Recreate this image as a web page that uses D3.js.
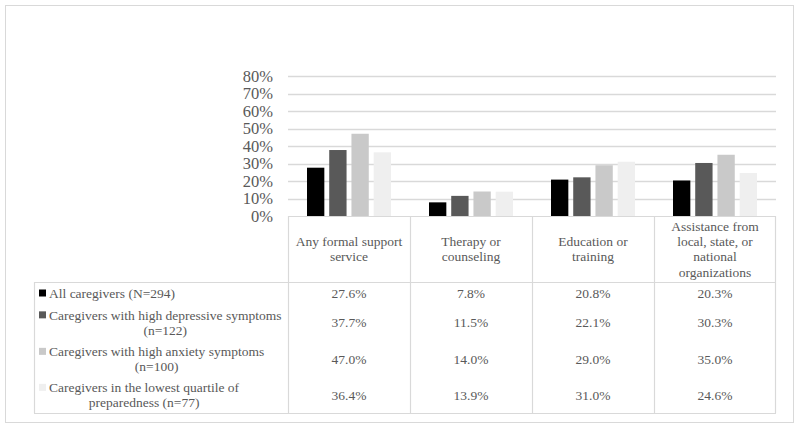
<!DOCTYPE html>
<html><head><meta charset="utf-8">
<script src="https://cdn.jsdelivr.net/npm/d3@7"></script>
<style>body{margin:0;background:#fff}svg{display:block}</style>
</head><body><svg id="c" width="800" height="428" font-family="'Liberation Serif', 'Times New Roman', Times, 'DejaVu Serif', serif"></svg>
<script>
const categories = [["Any formal support","service"],["Therapy or","counseling"],["Education or","training"],["Assistance from","local, state, or","national","organizations"]];
const seriesNames = [["All caregivers (N=294)"],["Caregivers with high depressive symptoms","(n=122)"],["Caregivers with high anxiety symptoms","(n=100)"],["Caregivers in the lowest quartile of","preparedness (n=77)"]];
const allCaregivers = [27.6, 7.8, 20.8, 20.3];
const highDepressive = [37.7, 11.5, 22.1, 30.3];
const highAnxiety = [47.0, 14.0, 29.0, 35.0];
const lowestPreparedness = [36.4, 13.9, 31.0, 24.6];
const yTicks = [0,10,20,30,40,50,60,70,80];
const colors = ["#000000","#595959","#c9c9c9","#efefef"];
const series = [allCaregivers, highDepressive, highAnxiety, lowestPreparedness];

(function(){
const svg = d3.select("#c");
const lineCol = "#d9d9d9";
const txt = "#595959";
svg.append("rect").attr("x",5.5).attr("y",5.5).attr("width",788).attr("height",417).attr("fill","#fff").attr("stroke",lineCol);

const pLeft=288, pRight=776, pTop=76, base=216;
const y = d3.scaleLinear().domain([0,80]).range([base, pTop]);
const x0 = d3.scaleBand().domain(d3.range(4)).range([pLeft,pRight]).padding(0);
const x1 = d3.scaleBand().domain(d3.range(4)).range([19,103]).paddingInner(0.22);

svg.append("g").selectAll("line").data(yTicks.filter(d=>d>0)).join("line")
  .attr("x1",pLeft).attr("x2",pRight).attr("y1",d=>Math.round(y(d))+0.5).attr("y2",d=>Math.round(y(d))+0.5)
  .attr("stroke",lineCol).attr("stroke-width",1.3);
svg.append("g").selectAll("text").data(yTicks).join("text")
  .attr("x",273).attr("y",d=>y(d)).attr("dy","0.35em").attr("text-anchor","end")
  .attr("font-size",16.5).attr("fill",txt).text(d=>d+"%");

series.forEach((s,si)=>{
  svg.append("g").selectAll("rect").data(s).join("rect")
    .attr("x",(d,i)=>x0(i)+x1(si)).attr("width",x1.bandwidth())
    .attr("y",d=>y(d)).attr("height",d=>base-y(d)).attr("fill",colors[si]);
});

const tLeft=34, hdrBottom=282, tBottom=413;
const rowH=[22,37,36,36];
const rowTops=[]; let acc=hdrBottom; rowH.forEach(h=>{rowTops.push(acc); acc+=h;});
const tl = svg.append("g").attr("stroke",lineCol).attr("stroke-width",1.2);
const hl=(a,b,yy)=>tl.append("line").attr("x1",a).attr("x2",b).attr("y1",yy+0.5).attr("y2",yy+0.5);
const vl=(xx,a,b)=>tl.append("line").attr("x1",xx+0.5).attr("x2",xx+0.5).attr("y1",a).attr("y2",b);
hl(pLeft,pRight,base);
hl(tLeft,pRight,hdrBottom);
hl(tLeft,pRight,tBottom);
vl(tLeft,hdrBottom,tBottom);
[0,1,2,3].forEach(i=>vl(x0(i),base,tBottom));
vl(pRight-1,base,tBottom);

const lh=15.3, fs=13.5;
categories.forEach((lines,i)=>{
  const cx=x0(i)+x0.bandwidth()/2, cy=(base+hdrBottom)/2;
  const t=svg.append("text").attr("text-anchor","middle").attr("font-size",fs).attr("fill",txt);
  lines.forEach((l,k)=>t.append("tspan").attr("x",cx).attr("y",cy+(k-(lines.length-1)/2)*lh).attr("dy","0.35em").text(l));
});

seriesNames.forEach((lines,si)=>{
  const cy=rowTops[si]+rowH[si]/2;
  const firstY=cy-(lines.length-1)/2*lh;
  svg.append("rect").attr("x",39).attr("y",firstY-3.5).attr("width",7).attr("height",7).attr("fill",colors[si]);
  const ws=lines.map(l=>{const t=svg.append("text").attr("font-size",fs).text(l);const w=t.node().getComputedTextLength();t.remove();return w;});
  const mw=d3.max(ws);
  lines.forEach((l,k)=>{
    svg.append("text").attr("font-size",fs).attr("text-anchor","middle").attr("fill",txt)
      .attr("x",49+mw/2).attr("y",firstY+k*lh).attr("dy","0.35em").text(l);
  });
  series[si].forEach((v,i)=>{
    svg.append("text").attr("font-size",fs).attr("text-anchor","middle").attr("fill",txt)
      .attr("x",x0(i)+x0.bandwidth()/2).attr("y",cy).attr("dy","0.35em").text(v.toFixed(1)+"%");
  });
});
})();
</script></body></html>
